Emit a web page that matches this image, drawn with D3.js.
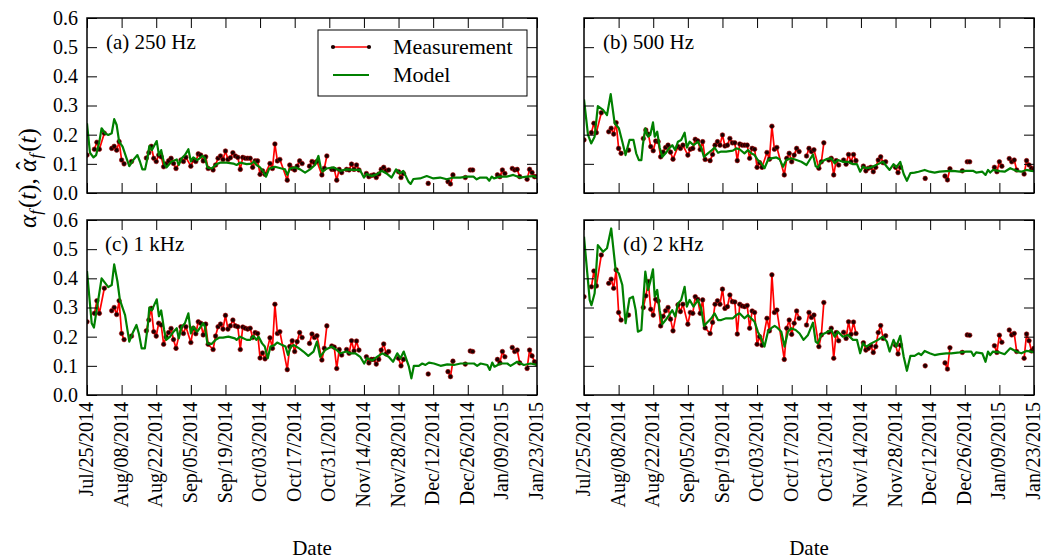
<!DOCTYPE html>
<html>
<head>
<meta charset="utf-8">
<script src="https://cdn.jsdelivr.net/npm/d3@7"></script>
<style>
  body { margin: 0; background: #fff; }
  svg { display: block; }
  svg text { font-family: 'Liberation Serif', 'Times New Roman', Times, serif; fill: #000; }
</style>
</head>
<body>
<div id="chart"></div>
<script>
// start of the record, every day below is counted from it
var startDate = '2014-07-25';

var xTickLabels = ['Jul/25/2014', 'Aug/08/2014', 'Aug/22/2014', 'Sep/05/2014', 'Sep/19/2014',
  'Oct/03/2014', 'Oct/17/2014', 'Oct/31/2014', 'Nov/14/2014', 'Nov/28/2014',
  'Dec/12/2014', 'Dec/26/2014', 'Jan/09/2015', 'Jan/23/2015'];
var yTicks = [0.0, 0.1, 0.2, 0.3, 0.4, 0.5, 0.6];

var bandLabels = ['(a) 250 Hz', '(b) 500 Hz', '(c) 1 kHz', '(d) 2 kHz'];

// measurement days (null = break in the red line)
var measDay = [0, null, 3, 4, 5, 7, null, 10, 11, 12, 13, 14, 15, null, 18, null,
  24, 25, 26, 27, 28, 29, 30, 31, 32, 33, 34, 35, 36, 38, 39, 40, 42, 43, 44, 45, 46, 47, 48, 49,
  51, 52, 53, 54, 55, 56, 57, 58, 59, 60, 61, 62, 63, 64, 65, 66, 67, 68, 69, 70, 71, 72,
  74, 75, 76, 77, 78, 81, 82, 83, 84, 85, 86, 87, null,
  90, 91, 92, 93, 95, 96, 97, null, 99, 100, 101, 102, 103, null, 105, 106, 107, 108, 109, 110, null,
  113, 114, 115, 116, 117, 118, 119, 120, 121, 122, null, 126, 127, 128, null, 138, null,
  146, 147, 148, null, 153, null, 155, 156, null, 166, 167, 168, 169, null,
  172, 173, 174, 175, null, 178, 179, 180, 181, 182];

var measA = [0.13, null, 0.15, 0.174, 0.15, 0.205, null, 0.153, 0.16, 0.147, 0.176, 0.113, 0.10, null, 0.108, null,
  0.12, 0.138, 0.16, 0.119, 0.108, 0.13, 0.124, 0.09, 0.10, 0.11, 0.119, 0.101, 0.084, 0.113, 0.108, 0.122, 0.092, 0.113, 0.108, 0.134, 0.13, 0.11, 0.124, 0.084,
  0.079, 0.096, 0.119, 0.127, 0.115, 0.144, 0.115, 0.121, 0.138, 0.127, 0.122, 0.081, 0.122, 0.119, 0.119, 0.119, 0.088, 0.11, 0.11, 0.064, 0.076, 0.064,
  0.101, 0.084, 0.168, 0.11, 0.115, 0.044, 0.096, 0.084, 0.079, 0.092, 0.11, 0.101, null,
  0.092, 0.108, 0.104, 0.108, 0.062, 0.085, 0.127, null, 0.081, 0.081, 0.044, 0.081, 0.07, null, 0.081, 0.079, 0.099, 0.081, 0.096, 0.079, null,
  0.067, 0.056, 0.06, 0.062, 0.053, 0.065, 0.081, 0.088, 0.076, 0.079, null, 0.073, 0.053, 0.067, null, 0.033, null,
  0.039, 0.031, 0.062, null, 0.053, null, 0.079, 0.079, null, 0.062, 0.056, 0.079, 0.067, null,
  0.084, 0.079, 0.081, 0.056, null, 0.047, 0.081, 0.07, 0.056, 0.056];

var measB = [0.182, null, 0.207, 0.239, 0.207, 0.275, null, 0.21, 0.222, 0.202, 0.241, 0.153, 0.136, null, 0.147, null,
  0.187, 0.216, 0.202, 0.159, 0.145, 0.178, 0.176, 0.124, 0.14, 0.156, 0.164, 0.14, 0.116, 0.159, 0.153, 0.164, 0.13, 0.15, 0.153, 0.184, 0.179, 0.149, 0.176, 0.115,
  0.111, 0.132, 0.164, 0.176, 0.164, 0.199, 0.161, 0.164, 0.187, 0.172, 0.172, 0.111, 0.168, 0.164, 0.164, 0.164, 0.119, 0.153, 0.15, 0.088, 0.104, 0.088,
  0.139, 0.116, 0.229, 0.15, 0.156, 0.062, 0.119, 0.136, 0.107, 0.13, 0.153, 0.142, null,
  0.127, 0.153, 0.142, 0.148, 0.085, 0.107, 0.172, null, 0.113, 0.119, 0.062, 0.111, 0.096, null, 0.113, 0.099, 0.132, 0.107, 0.132, 0.111, null,
  0.092, 0.076, 0.085, 0.088, 0.073, 0.088, 0.113, 0.124, 0.104, 0.107, null, 0.088, 0.07, 0.088, null, 0.05, null,
  0.058, 0.045, 0.083, null, 0.076, null, 0.107, 0.107, null, 0.088, 0.073, 0.107, 0.092, null,
  0.118, 0.107, 0.113, 0.079, null, 0.065, 0.111, 0.096, 0.085, 0.082];

var measC = [0.251, null, 0.28, 0.323, 0.28, 0.366, null, 0.289, 0.30, 0.276, 0.323, 0.211, 0.19, null, 0.202, null,
  0.22, 0.257, 0.297, 0.217, 0.202, 0.246, 0.24, 0.174, 0.199, 0.214, 0.228, 0.19, 0.16, 0.234, 0.211, 0.234, 0.18, 0.229, 0.21, 0.251, 0.246, 0.206, 0.243, 0.174,
  0.156, 0.202, 0.234, 0.243, 0.226, 0.273, 0.226, 0.237, 0.257, 0.237, 0.234, 0.156, 0.233, 0.229, 0.226, 0.229, 0.197, 0.214, 0.211, 0.127, 0.144, 0.124,
  0.196, 0.16, 0.311, 0.211, 0.217, 0.087, 0.166, 0.186, 0.149, 0.183, 0.214, 0.197, null,
  0.177, 0.209, 0.197, 0.203, 0.12, 0.16, 0.237, null, 0.168, 0.164, 0.091, 0.156, 0.137, null, 0.156, 0.143, 0.186, 0.151, 0.185, 0.154, null,
  0.131, 0.11, 0.122, 0.122, 0.106, 0.122, 0.154, 0.175, 0.141, 0.149, null, 0.126, 0.10, 0.122, null, 0.072, null,
  0.08, 0.063, 0.116, null, 0.106, null, 0.151, 0.149, null, 0.122, 0.11, 0.149, 0.131, null,
  0.163, 0.149, 0.154, 0.11, null, 0.091, 0.154, 0.134, 0.114, 0.108];

var measD = [0.337, null, 0.371, 0.425, 0.374, 0.48, null, 0.383, 0.397, 0.366, 0.429, 0.283, 0.257, null, 0.274, null,
  0.30, 0.34, 0.389, 0.294, 0.274, 0.328, 0.322, 0.237, 0.27, 0.289, 0.30, 0.26, 0.22, 0.309, 0.286, 0.311, 0.243, 0.283, 0.28, 0.337, 0.328, 0.28, 0.326, 0.23,
  0.211, 0.249, 0.311, 0.323, 0.311, 0.363, 0.297, 0.303, 0.343, 0.32, 0.319, 0.209, 0.311, 0.305, 0.303, 0.307, 0.229, 0.288, 0.283, 0.174, 0.2, 0.171,
  0.263, 0.22, 0.412, 0.283, 0.291, 0.122, 0.229, 0.257, 0.208, 0.246, 0.288, 0.263, null,
  0.24, 0.283, 0.266, 0.274, 0.166, 0.206, 0.317, null, 0.215, 0.229, 0.126, 0.214, 0.186, null, 0.215, 0.194, 0.251, 0.208, 0.25, 0.211, null,
  0.179, 0.154, 0.16, 0.169, 0.146, 0.166, 0.214, 0.238, 0.194, 0.203, null, 0.171, 0.141, 0.171, null, 0.10, null,
  0.11, 0.089, 0.162, null, 0.146, null, 0.206, 0.205, null, 0.169, 0.146, 0.205, 0.181, null,
  0.223, 0.206, 0.211, 0.149, null, 0.126, 0.209, 0.186, 0.151, 0.16];

// model curves, day and value
var modelDayA = [0, 1.2, 2.6, 3.7, 5, 5.9, 7.3, 8.6, 10, 11, 12, 13, 14.4, 16, 17.1, 18.7, 20.4, 21.4, 22.4, 23.5,
  24.5, 25.2, 26.2, 28.2, 29.1, 30, 31.2, 32.2, 34.2, 36.3, 37.1, 38.3, 39.6, 41, 42, 43, 44.6, 46.8, 47.7, 48.7,
  50.4, 52.4, 53.8, 56.5, 59.2, 60.5, 61.9, 64.6, 66.6, 67.5, 68.6, 70, 71.3, 72.4, 73.7, 76, 78.7, 80.1, 81, 82.1,
  84.1, 86.2, 88.2, 90.2, 92.2, 93.6, 94.5, 95.3, 96.9, 99.6, 102.3, 105, 107.7, 110.4, 112, 113.1, 115.1, 117.2, 119.2, 121.5,
  123.2, 125, 126.6, 127.9, 130, 130.9, 132, 134.7, 137.4, 140.1, 142.8, 145.5, 148.2, 150.9, 153.6, 156.3, 157.6, 159, 161.6, 162.7,
  163.7, 164.6, 167, 169.7, 172.4, 175.1, 177.8, 180.5, 182];
var modelA = [0.239, 0.138, 0.122, 0.13, 0.176, 0.222, 0.205, 0.199, 0.205, 0.253, 0.233, 0.176, 0.159, 0.119, 0.092, 0.113, 0.13, 0.108, 0.081, 0.081,
  0.122, 0.161, 0.147, 0.178, 0.13, 0.147, 0.101, 0.088, 0.108, 0.115, 0.096, 0.119, 0.13, 0.15, 0.108, 0.122, 0.113, 0.127, 0.119, 0.088,
  0.084, 0.099, 0.104, 0.104, 0.101, 0.096, 0.104, 0.099, 0.101, 0.108, 0.096, 0.088, 0.073, 0.056, 0.084, 0.09, 0.084, 0.081, 0.062, 0.084,
  0.088, 0.081, 0.07, 0.081, 0.096, 0.127, 0.088, 0.073, 0.084, 0.088, 0.076, 0.081, 0.079, 0.079, 0.053, 0.065, 0.058, 0.064, 0.076, 0.065,
  0.053, 0.081, 0.067, 0.076, 0.039, 0.031, 0.048, 0.05, 0.058, 0.05, 0.053, 0.047, 0.053, 0.053, 0.056, 0.056, 0.047, 0.053, 0.053, 0.042,
  0.056, 0.05, 0.056, 0.056, 0.062, 0.053, 0.056, 0.058, 0.053];

var modelDayB = [0, 1.6, 2.9, 4.3, 5.6, 7.7, 9.3, 10.8, 12.4, 14.1, 15.5, 16.8, 18.4, 20, 21.1, 22.2, 23.2, 23.8, 24.8, 25.9,
  26.8, 27.9, 28.6, 29.6, 30.6, 31.7, 33, 34.4, 35.7, 36.9, 38, 39.3, 40.7, 41.6, 42.7, 44.3, 46.1, 47.4, 48.5, 50.1,
  51.5, 52.8, 54.2, 55.5, 57.5, 60.2, 61.6, 62.9, 64.9, 66.3, 67.6, 69, 70.3, 71.7, 73, 74.4, 75.7, 77.8, 79.1, 80.5,
  81.8, 83.8, 85.9, 87.9, 90, 92.6, 93.7, 94.6, 96, 98, 100, 101.4, 102.7, 104.7, 106.7, 108.8, 110.4, 111.7, 112.8, 114.2,
  116.2, 118.9, 120.9, 122.5, 123.6, 125.2, 126.3, 127.9, 129.3, 130.6, 132, 133.7, 135.3, 137.8, 139.8, 141.8, 143.8, 146.5, 149.2, 151.9,
  154.6, 157.3, 158.6, 161.1, 162.4, 163.4, 164.3, 165.4, 168.1, 170.1, 172.4, 174.8, 176.9, 178.9, 180.9, 182];
var modelB = [0.321, 0.2, 0.17, 0.193, 0.298, 0.285, 0.267, 0.339, 0.239, 0.222, 0.176, 0.13, 0.182, 0.182, 0.136, 0.113, 0.113, 0.164, 0.222, 0.193,
  0.199, 0.242, 0.193, 0.21, 0.156, 0.124, 0.136, 0.153, 0.164, 0.147, 0.176, 0.182, 0.207, 0.156, 0.176, 0.164, 0.176, 0.156, 0.124, 0.136,
  0.145, 0.156, 0.138, 0.142, 0.142, 0.145, 0.153, 0.15, 0.136, 0.147, 0.136, 0.13, 0.113, 0.102, 0.085, 0.113, 0.119, 0.122, 0.116, 0.09,
  0.113, 0.119, 0.113, 0.107, 0.096, 0.132, 0.092, 0.088, 0.107, 0.116, 0.119, 0.102, 0.113, 0.107, 0.107, 0.099, 0.099, 0.073, 0.09, 0.085,
  0.088, 0.099, 0.107, 0.09, 0.079, 0.099, 0.088, 0.107, 0.065, 0.042, 0.068, 0.07, 0.073, 0.079, 0.073, 0.07, 0.073, 0.075, 0.076, 0.073,
  0.076, 0.076, 0.07, 0.073, 0.062, 0.079, 0.07, 0.079, 0.075, 0.073, 0.085, 0.076, 0.073, 0.079, 0.076, 0.075];

var modelDayC = [0, 1.9, 2.8, 5.9, 8.6, 10, 11, 12.3, 13.3, 15.4, 17.1, 18.7, 20, 21, 22.1, 23.4, 24.5, 25.2, 26.2, 28.2,
  29.1, 30, 31.2, 32, 33.6, 35, 36.3, 37.1, 38.3, 39.6, 41, 42, 43, 44.6, 47, 47.7, 48.7, 50.4, 52, 53.6,
  55, 57.2, 59.8, 60.5, 61.9, 64.6, 66, 67.3, 68.5, 69.4, 70.8, 71.9, 73.1, 74.2, 75.8, 76.9, 79, 80.3, 81.3, 82.4,
  83.7, 85.8, 87.5, 89.5, 91.6, 93, 94.3, 96.3, 99, 101, 102.3, 105, 106.4, 108.5, 110.5, 112.1, 113.3, 115.3, 117.3, 119.4,
  122, 123.8, 125.5, 126.8, 128.1, 130.2, 131.2, 132.2, 134.2, 135.6, 136.9, 138.3, 140.3, 143, 145.7, 148.4, 151.1, 156.5, 157.8, 159.2,
  161.9, 162.9, 163.9, 164.8, 167.3, 170, 171.3, 174, 176.7, 179.4, 182];
var modelC = [0.425, 0.246, 0.231, 0.40, 0.37, 0.377, 0.448, 0.39, 0.326, 0.274, 0.183, 0.217, 0.24, 0.21, 0.16, 0.16, 0.23, 0.30, 0.29, 0.328,
  0.27, 0.29, 0.223, 0.189, 0.20, 0.217, 0.229, 0.194, 0.234, 0.246, 0.28, 0.211, 0.234, 0.217, 0.246, 0.234, 0.177, 0.175, 0.189, 0.197,
  0.197, 0.20, 0.194, 0.189, 0.20, 0.189, 0.189, 0.203, 0.189, 0.20, 0.177, 0.166, 0.126, 0.166, 0.171, 0.18, 0.171, 0.166, 0.137, 0.166,
  0.171, 0.16, 0.149, 0.134, 0.149, 0.183, 0.131, 0.154, 0.166, 0.154, 0.143, 0.149, 0.143, 0.143, 0.131, 0.108, 0.126, 0.118, 0.131, 0.143,
  0.131, 0.114, 0.143, 0.126, 0.149, 0.097, 0.057, 0.10, 0.10, 0.108, 0.103, 0.111, 0.108, 0.10, 0.105, 0.103, 0.108, 0.108, 0.10, 0.108,
  0.103, 0.086, 0.111, 0.097, 0.108, 0.108, 0.10, 0.114, 0.103, 0.108, 0.103];

var modelDayD = [0, 2.3, 3, 4.3, 5.6, 7.7, 9.3, 11, 12.8, 14.1, 15.5, 16.8, 18.4, 19.8, 20.9, 21.8, 23.2, 23.8, 24.8, 25.9,
  26.8, 27.9, 28.6, 29.6, 30.6, 31.7, 33, 34.4, 35.7, 36.9, 38, 39.3, 40.7, 41.6, 42.7, 44.3, 46.1, 47.4, 48.5, 50.1,
  51.5, 52.8, 54.2, 55.5, 57.5, 60.2, 61.6, 62.9, 64.9, 66.3, 67.6, 69, 70.3, 71.7, 73, 74.4, 75.7, 77.1, 78.4, 79.8,
  81.1, 82.5, 83.8, 85.6, 87.2, 88.8, 90.6, 92.6, 93.7, 94.6, 96, 98, 100, 101.4, 102.7, 104.7, 106.7, 108.8, 110.4, 111.7,
  112.8, 114.2, 116.2, 118.9, 120.9, 122.5, 123.6, 125.2, 126.3, 127.9, 129.3, 130.6, 132, 133.7, 135.3, 136.4, 137.8, 139.8, 141.8, 143.8,
  146.5, 148.5, 151.9, 154.6, 156.6, 157.6, 158.6, 161.1, 162.4, 163.4, 164.3, 165.4, 168.1, 170.1, 172.4, 174.8, 176.9, 178.9, 180.9, 182];
var modelD = [0.543, 0.326, 0.308, 0.349, 0.514, 0.491, 0.503, 0.571, 0.429, 0.417, 0.377, 0.246, 0.331, 0.337, 0.291, 0.217, 0.223, 0.303, 0.423, 0.36,
  0.389, 0.431, 0.337, 0.36, 0.291, 0.243, 0.257, 0.274, 0.291, 0.269, 0.314, 0.326, 0.371, 0.303, 0.326, 0.303, 0.326, 0.297, 0.237, 0.251,
  0.263, 0.28, 0.257, 0.257, 0.263, 0.263, 0.274, 0.28, 0.263, 0.274, 0.263, 0.251, 0.217, 0.194, 0.166, 0.217, 0.229, 0.237, 0.229, 0.217,
  0.166, 0.217, 0.229, 0.223, 0.211, 0.189, 0.206, 0.248, 0.183, 0.177, 0.206, 0.214, 0.223, 0.2, 0.217, 0.2, 0.206, 0.189, 0.189, 0.143,
  0.177, 0.166, 0.177, 0.189, 0.2, 0.183, 0.149, 0.189, 0.166, 0.203, 0.131, 0.083, 0.134, 0.134, 0.143, 0.137, 0.151, 0.143, 0.137, 0.14,
  0.143, 0.143, 0.146, 0.149, 0.149, 0.134, 0.146, 0.143, 0.114, 0.149, 0.137, 0.149, 0.146, 0.14, 0.16, 0.149, 0.143, 0.151, 0.149, 0.146];


(function( container )
{
  var width = 1042,
      height = 560,
      panelW = 450,
      panelH = 175,
      colX = [87, 584],
      rowY = [18, 220],
      labelPos = [[19, 31], [19, 31], [18, 31], [39, 31]],
      red = '#ff0000',
      green = '#008000',
      serif = "'Liberation Serif', 'Times New Roman', Times, serif",
      fontSize = 20,
      parseDay = d3.timeParse('%Y-%m-%d'),
      parseTick = d3.timeParse('%b/%d/%Y'),
      start = parseDay( startDate ),
      tickDays,
      x,
      y,
      svg,
      panels;

  tickDays = xTickLabels.map(function( s )
  {
    return d3.timeDay.count( start, parseTick( s ) );
  });

  x = d3.scaleLinear().domain([ 0, d3.max( tickDays ) ]).range([ 0, panelW ]);
  y = d3.scaleLinear().domain([ yTicks[0], yTicks[yTicks.length - 1] ]).range([ panelH, 0 ]);

  svg = d3.select( container )
    .append('svg')
      .attr('width', width)
      .attr('height', height)
      .attr('font-family', serif);

  // shared axes: y labels only on the left column, x labels only on the bottom row
  panels = [
    { label: bandLabels[0], col: 0, row: 0, meas: measA, mDay: modelDayA, model: modelA },
    { label: bandLabels[1], col: 1, row: 0, meas: measB, mDay: modelDayB, model: modelB },
    { label: bandLabels[2], col: 0, row: 1, meas: measC, mDay: modelDayC, model: modelC },
    { label: bandLabels[3], col: 1, row: 1, meas: measD, mDay: modelDayD, model: modelD }
  ];

  panels.forEach( drawPanel );
  drawLegend();
  drawTitles();


  /*-- functions --*/
  function drawPanel( p, k )
  {
    var g,
        plot,
        meas,
        modelPts,
        clipId = 'clip' + k,
        line,
        axB, axT, axL, axR,
        gb;

    g = svg.append('g')
      .attr('transform', 'translate(' + colX[p.col] + ',' + rowY[p.row] + ')');

    g.append('clipPath')
      .attr('id', clipId)
      .append('rect')
        .attr('width', panelW)
        .attr('height', panelH);

    meas = measDay.map(function( d, i )
    {
      return { day: d, v: p.meas[i] };
    });
    modelPts = p.mDay.map(function( d, i )
    {
      return { day: d, v: p.model[i] };
    });

    line = d3.line()
      .defined(function( d ) { return d.day !== null && d.v !== null; })
      .x(function( d ) { return x( d.day ); })
      .y(function( d ) { return y( d.v ); });

    plot = g.append('g').attr('clip-path', 'url(#' + clipId + ')');

    plot.append('path')
      .datum( meas )
      .attr('d', line)
      .attr('fill', 'none')
      .attr('stroke', red)
      .attr('stroke-width', 1.7)
      .attr('stroke-linejoin', 'round');

    plot.selectAll('circle')
      .data( meas.filter(function( d ) { return d.day !== null; }) )
      .enter()
        .append('circle')
        .attr('cx', function( d ) { return x( d.day ); })
        .attr('cy', function( d ) { return y( d.v ); })
        .attr('r', 2.3)
        .attr('fill', '#1a0000')
        .attr('stroke', '#b00000')
        .attr('stroke-width', 0.6);

    plot.append('path')
      .datum( modelPts )
      .attr('d', line)
      .attr('fill', 'none')
      .attr('stroke', green)
      .attr('stroke-width', 2.2)
      .attr('stroke-linejoin', 'round');

    // axes, ticks pointing inward
    axB = d3.axisBottom( x ).tickValues( tickDays ).tickSize( -10 ).tickPadding( 7 );
    if( p.row === 1 )
    {
      axB.tickFormat(function( d, i ) { return xTickLabels[i]; });
    }
    else
    {
      axB.tickFormat('');
    }
    axT = d3.axisTop( x ).tickValues( tickDays ).tickSize( -10 ).tickFormat('');
    axL = d3.axisLeft( y ).tickValues( yTicks ).tickSize( -10 ).tickPadding( 9 );
    if( p.col === 0 )
    {
      axL.tickFormat( d3.format('.1f') );
    }
    else
    {
      axL.tickFormat('');
    }
    axR = d3.axisRight( y ).tickValues( yTicks ).tickSize( -10 ).tickFormat('');

    gb = g.append('g').attr('transform', 'translate(0,' + panelH + ')').call( axB );
    g.append('g').call( axT );
    g.append('g').call( axL );
    g.append('g').attr('transform', 'translate(' + panelW + ',0)').call( axR );

    g.selectAll('.domain').remove();
    g.selectAll('g').attr('font-family', serif).attr('font-size', fontSize);
    g.selectAll('.tick line').attr('stroke', '#000').attr('stroke-width', 1);
    g.selectAll('.tick text').attr('fill', '#000');

    gb.selectAll('.tick text')
      .attr('transform', 'rotate(-90)')
      .attr('text-anchor', 'end')
      .attr('x', -7)
      .attr('y', 0)
      .attr('dy', '0.28em');

    // frame
    g.append('rect')
      .attr('width', panelW)
      .attr('height', panelH)
      .attr('fill', 'none')
      .attr('stroke', '#000')
      .attr('stroke-width', 1.5);

    g.append('text')
      .attr('x', labelPos[k][0])
      .attr('y', labelPos[k][1])
      .attr('font-size', 21)
      .text( p.label );
  }


  function drawLegend()
  {
    var lg = svg.append('g').attr('transform', 'translate(318,30)');

    lg.append('rect')
      .attr('width', 209)
      .attr('height', 66)
      .attr('fill', '#fff')
      .attr('stroke', '#000')
      .attr('stroke-width', 1);

    lg.append('line')
      .attr('x1', 15).attr('x2', 51)
      .attr('y1', 17).attr('y2', 17)
      .attr('stroke', red)
      .attr('stroke-width', 1.7);

    [15, 51].forEach(function( cx )
    {
      lg.append('circle')
        .attr('cx', cx)
        .attr('cy', 17)
        .attr('r', 2.1)
        .attr('fill', '#1a0000');
    });

    lg.append('line')
      .attr('x1', 15).attr('x2', 51)
      .attr('y1', 45).attr('y2', 45)
      .attr('stroke', green)
      .attr('stroke-width', 2.2);

    lg.append('text').attr('x', 75).attr('y', 24).attr('font-size', 22).text('Measurement');
    lg.append('text').attr('x', 75).attr('y', 52).attr('font-size', 22).text('Model');
  }


  function drawTitles()
  {
    var t;

    [0, 1].forEach(function( c )
    {
      svg.append('text')
        .attr('x', colX[c] + panelW / 2)
        .attr('y', 555)
        .attr('text-anchor', 'middle')
        .attr('font-size', 21)
        .text('Date');
    });

    // alpha_f(t), hat-alpha_f(t)
    t = svg.append('text')
      .attr('transform', 'translate(36,178) rotate(-90)')
      .attr('text-anchor', 'middle')
      .attr('font-size', 25);

    t.append('tspan').attr('font-style', 'italic').text('\u03b1');
    t.append('tspan').attr('font-style', 'italic').attr('font-size', 17).attr('dy', 5).text('f');
    t.append('tspan').attr('dy', -5).attr('dx', 2).text('(');
    t.append('tspan').attr('font-style', 'italic').text('t');
    t.append('tspan').text('), ');
    t.append('tspan').attr('font-style', 'italic').text('\u03b1');
    t.append('tspan').attr('dx', -11).attr('dy', -2).text('\u02c6');
    t.append('tspan').attr('font-style', 'italic').attr('font-size', 17).attr('dx', 3).attr('dy', 7).text('f');
    t.append('tspan').attr('dy', -5).attr('dx', 2).text('(');
    t.append('tspan').attr('font-style', 'italic').text('t');
    t.append('tspan').text(')');
  }
})( document.getElementById('chart') );
</script>
</body>
</html>
